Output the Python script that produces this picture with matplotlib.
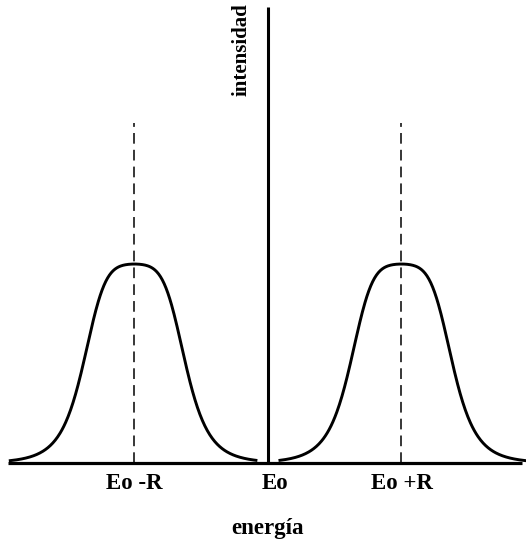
import numpy as np
import matplotlib
matplotlib.use('Agg')
import matplotlib.pyplot as plt

plt.rcParams['font.family'] = ['Liberation Serif', 'DejaVu Serif']

# Bandas de emisión y absorción desplazadas por el retroceso R
peak_centers = [-1.0, 1.0]          # Eo - R, Eo + R (en unidades de R)
peak_height = 1.0
half_width = 0.403                  # anchura del núcleo
shape_power = 4.5
envelope_width = 1.16               # redondea la cima
curve_ranges = [(-1.93, -0.09), (0.09, 2.0)]
tick_pos = [-1.0, 0.05, 1.0]
tick_labels = ['Eo -R', 'Eo', 'Eo +R']


def band(x, c):
    d = np.abs(x - c)
    core = 1 / (1 + (d / half_width) ** shape_power)
    return peak_height * core * np.exp(-(d / envelope_width) ** 2)


fig = plt.figure(figsize=(5.26, 5.41), dpi=100)
ax = fig.add_axes([0, 0, 1, 1])
ax.set_xlim(-2.007, 1.933)
ax.set_ylim(-0.392, 2.327)
ax.axis('off')

# eje de energía
ax.plot([-1.95, 1.90], [0, 0], color='black', lw=2.3, solid_capstyle='butt')
# línea en Eo (eje de intensidad)
ax.plot([0, 0], [0, 2.29], color='black', lw=2.2, solid_capstyle='butt')

for c, (x0, x1) in zip(peak_centers, curve_ranges):
    x = np.linspace(x0, x1, 400)
    ax.plot(x, band(x, c), color='black', lw=2.1)
    ax.plot([c, c], [0, 1.71], color='black', lw=1.1,
            linestyle=(0, (7, 4)))

for p, lab in zip(tick_pos, tick_labels):
    ax.text(p, -0.105, lab, ha='center', va='center',
            fontsize=16.5, fontweight='bold')

ax.text(0.0, -0.33, 'energía', ha='center', va='center',
        fontsize=16.5, fontweight='bold')
ax.text(-0.2, 2.08, 'intensidad', ha='center', va='center', rotation=90,
        fontsize=15, fontweight='bold')

fig.savefig('out.png', dpi=100)
plt.close(fig)
